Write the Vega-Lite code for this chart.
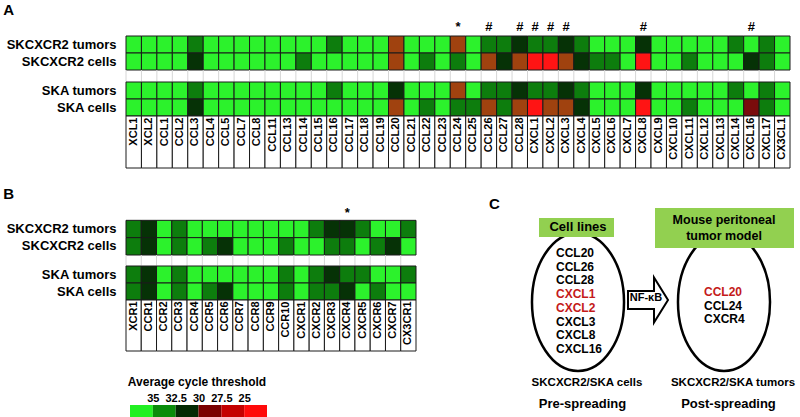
{
  "$schema": "https://vega.github.io/schema/vega-lite/v6.json",
  "background": "white",
  "padding": {"left": 3, "top": 3, "right": 0, "bottom": 0},
  "config": {
    "font": "Liberation Sans",
    "view": {"stroke": null},
    "axis": {"labelColor": "#000", "titleColor": "#000"},
    "title": {"color": "#000"}
  },
  "datasets": {
    "A": [
      {"gene": "XCL1", "sig": "", "SKCXCR2 tumors": 36, "SKCXCR2 cells": 36, "SKA tumors": 36, "SKA cells": 36},
      {"gene": "XCL2", "sig": "", "SKCXCR2 tumors": 36, "SKCXCR2 cells": 36, "SKA tumors": 36, "SKA cells": 36},
      {"gene": "CCL1", "sig": "", "SKCXCR2 tumors": 36, "SKCXCR2 cells": 36, "SKA tumors": 36, "SKA cells": 36},
      {"gene": "CCL2", "sig": "", "SKCXCR2 tumors": 36, "SKCXCR2 cells": 36, "SKA tumors": 36, "SKA cells": 36},
      {"gene": "CCL3", "sig": "", "SKCXCR2 tumors": 33, "SKCXCR2 cells": 30.5, "SKA tumors": 33, "SKA cells": 30.5},
      {"gene": "CCL4", "sig": "", "SKCXCR2 tumors": 36, "SKCXCR2 cells": 36, "SKA tumors": 36, "SKA cells": 36},
      {"gene": "CCL5", "sig": "", "SKCXCR2 tumors": 36, "SKCXCR2 cells": 36, "SKA tumors": 36, "SKA cells": 36},
      {"gene": "CCL7", "sig": "", "SKCXCR2 tumors": 36, "SKCXCR2 cells": 36, "SKA tumors": 36, "SKA cells": 36},
      {"gene": "CCL8", "sig": "", "SKCXCR2 tumors": 36, "SKCXCR2 cells": 36, "SKA tumors": 36, "SKA cells": 36},
      {"gene": "CCL11", "sig": "", "SKCXCR2 tumors": 36, "SKCXCR2 cells": 36, "SKA tumors": 36, "SKA cells": 36},
      {"gene": "CCL13", "sig": "", "SKCXCR2 tumors": 36, "SKCXCR2 cells": 36, "SKA tumors": 36, "SKA cells": 36},
      {"gene": "CCL14", "sig": "", "SKCXCR2 tumors": 36, "SKCXCR2 cells": 33, "SKA tumors": 36, "SKA cells": 36},
      {"gene": "CCL15", "sig": "", "SKCXCR2 tumors": 36, "SKCXCR2 cells": 36, "SKA tumors": 36, "SKA cells": 36},
      {"gene": "CCL16", "sig": "", "SKCXCR2 tumors": 33, "SKCXCR2 cells": 36, "SKA tumors": 33, "SKA cells": 36},
      {"gene": "CCL17", "sig": "", "SKCXCR2 tumors": 36, "SKCXCR2 cells": 36, "SKA tumors": 36, "SKA cells": 36},
      {"gene": "CCL18", "sig": "", "SKCXCR2 tumors": 36, "SKCXCR2 cells": 36, "SKA tumors": 36, "SKA cells": 36},
      {"gene": "CCL19", "sig": "", "SKCXCR2 tumors": 36, "SKCXCR2 cells": 36, "SKA tumors": 36, "SKA cells": 36},
      {"gene": "CCL20", "sig": "", "SKCXCR2 tumors": 28.5, "SKCXCR2 cells": 28.5, "SKA tumors": 30.5, "SKA cells": 28.5},
      {"gene": "CCL21", "sig": "", "SKCXCR2 tumors": 36, "SKCXCR2 cells": 36, "SKA tumors": 36, "SKA cells": 36},
      {"gene": "CCL22", "sig": "", "SKCXCR2 tumors": 36, "SKCXCR2 cells": 33, "SKA tumors": 36, "SKA cells": 33},
      {"gene": "CCL23", "sig": "", "SKCXCR2 tumors": 36, "SKCXCR2 cells": 36, "SKA tumors": 36, "SKA cells": 36},
      {"gene": "CCL24", "sig": "*", "SKCXCR2 tumors": 28.5, "SKCXCR2 cells": 33, "SKA tumors": 28.5, "SKA cells": 33},
      {"gene": "CCL25", "sig": "", "SKCXCR2 tumors": 36, "SKCXCR2 cells": 36, "SKA tumors": 36, "SKA cells": 33},
      {"gene": "CCL26", "sig": "#", "SKCXCR2 tumors": 33, "SKCXCR2 cells": 28.5, "SKA tumors": 33, "SKA cells": 28.5},
      {"gene": "CCL27", "sig": "", "SKCXCR2 tumors": 33, "SKCXCR2 cells": 30.5, "SKA tumors": 33, "SKA cells": 33},
      {"gene": "CCL28", "sig": "#", "SKCXCR2 tumors": 30.5, "SKCXCR2 cells": 28.5, "SKA tumors": 30.5, "SKA cells": 28.5},
      {"gene": "CXCL1", "sig": "#", "SKCXCR2 tumors": 33, "SKCXCR2 cells": 25, "SKA tumors": 33, "SKA cells": 25},
      {"gene": "CXCL2", "sig": "#", "SKCXCR2 tumors": 33, "SKCXCR2 cells": 25, "SKA tumors": 33, "SKA cells": 28.5},
      {"gene": "CXCL3", "sig": "#", "SKCXCR2 tumors": 30.5, "SKCXCR2 cells": 28.5, "SKA tumors": 30.5, "SKA cells": 28.5},
      {"gene": "CXCL4", "sig": "", "SKCXCR2 tumors": 33, "SKCXCR2 cells": 30.5, "SKA tumors": 33, "SKA cells": 30.5},
      {"gene": "CXCL5", "sig": "", "SKCXCR2 tumors": 36, "SKCXCR2 cells": 33, "SKA tumors": 36, "SKA cells": 36},
      {"gene": "CXCL6", "sig": "", "SKCXCR2 tumors": 36, "SKCXCR2 cells": 33, "SKA tumors": 36, "SKA cells": 36},
      {"gene": "CXCL7", "sig": "", "SKCXCR2 tumors": 36, "SKCXCR2 cells": 36, "SKA tumors": 36, "SKA cells": 36},
      {"gene": "CXCL8", "sig": "#", "SKCXCR2 tumors": 30.5, "SKCXCR2 cells": 25, "SKA tumors": 30.5, "SKA cells": 25},
      {"gene": "CXCL9", "sig": "", "SKCXCR2 tumors": 36, "SKCXCR2 cells": 36, "SKA tumors": 36, "SKA cells": 36},
      {"gene": "CXCL10", "sig": "", "SKCXCR2 tumors": 36, "SKCXCR2 cells": 36, "SKA tumors": 36, "SKA cells": 36},
      {"gene": "CXCL11", "sig": "", "SKCXCR2 tumors": 36, "SKCXCR2 cells": 33, "SKA tumors": 36, "SKA cells": 33},
      {"gene": "CXCL12", "sig": "", "SKCXCR2 tumors": 36, "SKCXCR2 cells": 36, "SKA tumors": 36, "SKA cells": 36},
      {"gene": "CXCL13", "sig": "", "SKCXCR2 tumors": 36, "SKCXCR2 cells": 36, "SKA tumors": 36, "SKA cells": 36},
      {"gene": "CXCL14", "sig": "", "SKCXCR2 tumors": 33, "SKCXCR2 cells": 36, "SKA tumors": 33, "SKA cells": 36},
      {"gene": "CXCL16", "sig": "#", "SKCXCR2 tumors": 36, "SKCXCR2 cells": 30.5, "SKA tumors": 36, "SKA cells": 27.5},
      {"gene": "CXCL17", "sig": "", "SKCXCR2 tumors": 33, "SKCXCR2 cells": 33, "SKA tumors": 33, "SKA cells": 33},
      {"gene": "CX3CL1", "sig": "", "SKCXCR2 tumors": 36, "SKCXCR2 cells": 36, "SKA tumors": 36, "SKA cells": 36}
    ],
    "B": [
      {"gene": "XCR1", "sig": "", "SKCXCR2 tumors": 33, "SKCXCR2 cells": 33, "SKA tumors": 33, "SKA cells": 33},
      {"gene": "CCR1", "sig": "", "SKCXCR2 tumors": 30.5, "SKCXCR2 cells": 30.5, "SKA tumors": 30.5, "SKA cells": 30.5},
      {"gene": "CCR2", "sig": "", "SKCXCR2 tumors": 36, "SKCXCR2 cells": 36, "SKA tumors": 36, "SKA cells": 36},
      {"gene": "CCR3", "sig": "", "SKCXCR2 tumors": 33, "SKCXCR2 cells": 33, "SKA tumors": 33, "SKA cells": 33},
      {"gene": "CCR4", "sig": "", "SKCXCR2 tumors": 36, "SKCXCR2 cells": 36, "SKA tumors": 36, "SKA cells": 36},
      {"gene": "CCR5", "sig": "", "SKCXCR2 tumors": 36, "SKCXCR2 cells": 33, "SKA tumors": 36, "SKA cells": 33},
      {"gene": "CCR6", "sig": "", "SKCXCR2 tumors": 36, "SKCXCR2 cells": 30.5, "SKA tumors": 36, "SKA cells": 30.5},
      {"gene": "CCR7", "sig": "", "SKCXCR2 tumors": 36, "SKCXCR2 cells": 36, "SKA tumors": 36, "SKA cells": 36},
      {"gene": "CCR8", "sig": "", "SKCXCR2 tumors": 36, "SKCXCR2 cells": 36, "SKA tumors": 36, "SKA cells": 36},
      {"gene": "CCR9", "sig": "", "SKCXCR2 tumors": 36, "SKCXCR2 cells": 36, "SKA tumors": 36, "SKA cells": 36},
      {"gene": "CCR10", "sig": "", "SKCXCR2 tumors": 36, "SKCXCR2 cells": 33, "SKA tumors": 33, "SKA cells": 33},
      {"gene": "CXCR1", "sig": "", "SKCXCR2 tumors": 36, "SKCXCR2 cells": 36, "SKA tumors": 36, "SKA cells": 36},
      {"gene": "CXCR2", "sig": "", "SKCXCR2 tumors": 33, "SKCXCR2 cells": 36, "SKA tumors": 33, "SKA cells": 33},
      {"gene": "CXCR3", "sig": "", "SKCXCR2 tumors": 30.5, "SKCXCR2 cells": 33, "SKA tumors": 30.5, "SKA cells": 33},
      {"gene": "CXCR4", "sig": "*", "SKCXCR2 tumors": 30.5, "SKCXCR2 cells": 33, "SKA tumors": 33, "SKA cells": 30.5},
      {"gene": "CXCR5", "sig": "", "SKCXCR2 tumors": 33, "SKCXCR2 cells": 36, "SKA tumors": 33, "SKA cells": 36},
      {"gene": "CXCR6", "sig": "", "SKCXCR2 tumors": 36, "SKCXCR2 cells": 33, "SKA tumors": 36, "SKA cells": 33},
      {"gene": "CXCR7", "sig": "", "SKCXCR2 tumors": 36, "SKCXCR2 cells": 30.5, "SKA tumors": 36, "SKA cells": 36},
      {"gene": "CX3CR1", "sig": "", "SKCXCR2 tumors": 33, "SKCXCR2 cells": 36, "SKA tumors": 33, "SKA cells": 36}
    ],
    "legend": [
      {"from": 37.5, "to": 35, "ct_bin": 36.25},
      {"from": 35, "to": 32.5, "ct_bin": 33.75},
      {"from": 32.5, "to": 30, "ct_bin": 31.25},
      {"from": 30, "to": 27.5, "ct_bin": 28.75},
      {"from": 27.5, "to": 25, "ct_bin": 26.25},
      {"from": 25, "to": 22.5, "ct_bin": 23.75}
    ],
    "stages": [
      {"stage": "Pre-spreading", "model": "Cell lines", "samples": "SKCXCR2/SKA cells"},
      {"stage": "Post-spreading", "model": "Mouse peritoneal\ntumor model", "samples": "SKCXCR2/SKA tumors"}
    ],
    "transition": [
      {"stage": "NF-κB"}
    ],
    "chemokines": [
      {"stage": "Pre-spreading", "order": 1, "gene": "CCL20", "highlight": false},
      {"stage": "Pre-spreading", "order": 2, "gene": "CCL26", "highlight": false},
      {"stage": "Pre-spreading", "order": 3, "gene": "CCL28", "highlight": false},
      {"stage": "Pre-spreading", "order": 4, "gene": "CXCL1", "highlight": true},
      {"stage": "Pre-spreading", "order": 5, "gene": "CXCL2", "highlight": true},
      {"stage": "Pre-spreading", "order": 6, "gene": "CXCL3", "highlight": false},
      {"stage": "Pre-spreading", "order": 7, "gene": "CXCL8", "highlight": false},
      {"stage": "Pre-spreading", "order": 8, "gene": "CXCL16", "highlight": false},
      {"stage": "Post-spreading", "order": 1, "gene": "CCL20", "highlight": true},
      {"stage": "Post-spreading", "order": 2, "gene": "CCL24", "highlight": false},
      {"stage": "Post-spreading", "order": 3, "gene": "CXCR4", "highlight": false}
    ]
  },
  "resolve": {"scale": {"color": "independent"}},
  "spacing": 18,
  "vconcat": [
    {
      "spacing": 0,
      "bounds": "flush",
      "vconcat": [
        {
          "title": {"text": "A", "anchor": "start", "frame": "bounds", "fontSize": 15, "fontWeight": "bold", "dx": -3, "offset": 1},
          "width": 664,
          "height": 51,
          "data": {"name": "A"},
          "transform": [{"fold": ["SKCXCR2 tumors", "SKCXCR2 cells"], "as": ["sample", "ct"]}],
          "encoding": {
            "x": {"field": "gene", "type": "nominal", "sort": null, "axis": null, "scale": {"paddingInner": 0, "paddingOuter": 0}}
          },
          "layer": [
            {
              "mark": {"type": "rect", "stroke": "#1a1a1a", "strokeWidth": 1},
              "encoding": {
                "y": {"field": "sample", "type": "nominal", "scale": {"domain": ["significance", "SKCXCR2 tumors", "SKCXCR2 cells"], "paddingInner": 0, "paddingOuter": 0},
                  "axis": {"title": null, "ticks": false, "domain": false, "labelFontSize": 13, "labelFontWeight": "bold", "labelPadding": 10, "labelExpr": "datum.value === 'significance' ? '' : datum.value"}},
                "color": {"field": "ct", "type": "quantitative", "legend": null,
                  "scale": {"type": "linear", "domain": [25, 27.5, 28.5, 30.5, 33, 36], "range": ["#ff1414", "#7a0c0c", "#a0420f", "#063206", "#0d7d0d", "#2cf22c"], "interpolate": "rgb"}}
              }
            },
            {
              "mark": {"type": "text", "fontSize": 13, "fontWeight": "bold", "baseline": "middle", "dy": -0.5},
              "encoding": {
                "y": {"datum": "significance", "type": "nominal"},
                "text": {"condition": {"test": "datum.sample === 'SKCXCR2 tumors'", "field": "sig"}, "value": ""}
              }
            }
          ]
        },
        {
          "width": 664,
          "height": 12,
          "data": {"name": "A"},
          "mark": {"type": "rule", "stroke": "#d6d6d6", "strokeWidth": 1},
          "encoding": {
            "x": {"field": "gene", "type": "nominal", "sort": null, "bandPosition": 0, "axis": null, "scale": {"paddingInner": 0, "paddingOuter": 0}}
          }
        },
        {
          "width": 664,
          "height": 34,
          "data": {"name": "A"},
          "transform": [{"fold": ["SKA tumors", "SKA cells"], "as": ["sample", "ct"]}],
          "mark": {"type": "rect", "stroke": "#1a1a1a", "strokeWidth": 1},
          "encoding": {
            "x": {"field": "gene", "type": "nominal", "sort": null, "axis": null, "scale": {"paddingInner": 0, "paddingOuter": 0}},
            "y": {"field": "sample", "type": "nominal", "scale": {"domain": ["SKA tumors", "SKA cells"], "paddingInner": 0, "paddingOuter": 0},
              "axis": {"title": null, "ticks": false, "domain": false, "labelFontSize": 13, "labelFontWeight": "bold", "labelPadding": 10}},
            "color": {"field": "ct", "type": "quantitative", "legend": null,
              "scale": {"type": "linear", "domain": [25, 27.5, 28.5, 30.5, 33, 36], "range": ["#ff1414", "#7a0c0c", "#a0420f", "#063206", "#0d7d0d", "#2cf22c"], "interpolate": "rgb"}}
          }
        },
        {
          "width": 664,
          "height": 52,
          "data": {"name": "A"},
          "mark": {"type": "rect", "fill": "#ffffff", "stroke": "#1a1a1a", "strokeWidth": 1},
          "encoding": {
            "x": {"field": "gene", "type": "nominal", "sort": null, "scale": {"paddingInner": 0, "paddingOuter": 0},
              "axis": {"orient": "bottom", "offset": -52, "title": null, "ticks": false, "tickSize": 0, "domain": false, "labelAngle": -90, "labelAlign": "right", "labelBaseline": "middle", "labelFontSize": 11, "labelFontWeight": "bold", "labelPadding": 1, "labelOverlap": false, "zindex": 1}}
          }
        }
      ]
    },
    {
      "spacing": 64,
      "resolve": {"scale": {"color": "independent"}},
      "hconcat": [
        {
          "spacing": 23,
          "resolve": {"scale": {"color": "independent"}},
          "vconcat": [
            {
              "spacing": 0,
              "bounds": "flush",
              "vconcat": [
                {
                  "title": {"text": "B", "anchor": "start", "frame": "bounds", "fontSize": 15, "fontWeight": "bold", "dx": -3, "offset": 1},
                  "width": 290,
                  "height": 52,
                  "data": {"name": "B"},
                  "transform": [{"fold": ["SKCXCR2 tumors", "SKCXCR2 cells"], "as": ["sample", "ct"]}],
                  "encoding": {
                    "x": {"field": "gene", "type": "nominal", "sort": null, "axis": null, "scale": {"paddingInner": 0, "paddingOuter": 0}}
                  },
                  "layer": [
                    {
                      "mark": {"type": "rect", "stroke": "#1a1a1a", "strokeWidth": 1},
                      "encoding": {
                        "y": {"field": "sample", "type": "nominal", "scale": {"domain": ["significance", "SKCXCR2 tumors", "SKCXCR2 cells"], "paddingInner": 0, "paddingOuter": 0},
                          "axis": {"title": null, "ticks": false, "domain": false, "labelFontSize": 13, "labelFontWeight": "bold", "labelPadding": 10, "labelExpr": "datum.value === 'significance' ? '' : datum.value"}},
                        "color": {"field": "ct", "type": "quantitative", "legend": null,
                          "scale": {"type": "linear", "domain": [25, 27.5, 28.5, 30.5, 33, 36], "range": ["#ff1414", "#7a0c0c", "#a0420f", "#063206", "#0d7d0d", "#2cf22c"], "interpolate": "rgb"}}
                      }
                    },
                    {
                      "mark": {"type": "text", "fontSize": 13, "fontWeight": "bold", "baseline": "middle", "dy": 1},
                      "encoding": {
                        "y": {"datum": "significance", "type": "nominal"},
                        "text": {"condition": {"test": "datum.sample === 'SKCXCR2 tumors'", "field": "sig"}, "value": ""}
                      }
                    }
                  ]
                },
                {
                  "width": 290,
                  "height": 11,
                  "data": {"name": "B"},
                  "mark": {"type": "rule", "stroke": "#d6d6d6", "strokeWidth": 1},
                  "encoding": {
                    "x": {"field": "gene", "type": "nominal", "sort": null, "bandPosition": 0, "axis": null, "scale": {"paddingInner": 0, "paddingOuter": 0}}
                  }
                },
                {
                  "width": 290,
                  "height": 34,
                  "data": {"name": "B"},
                  "transform": [{"fold": ["SKA tumors", "SKA cells"], "as": ["sample", "ct"]}],
                  "mark": {"type": "rect", "stroke": "#1a1a1a", "strokeWidth": 1},
                  "encoding": {
                    "x": {"field": "gene", "type": "nominal", "sort": null, "axis": null, "scale": {"paddingInner": 0, "paddingOuter": 0}},
                    "y": {"field": "sample", "type": "nominal", "scale": {"domain": ["SKA tumors", "SKA cells"], "paddingInner": 0, "paddingOuter": 0},
                      "axis": {"title": null, "ticks": false, "domain": false, "labelFontSize": 13, "labelFontWeight": "bold", "labelPadding": 10}},
                    "color": {"field": "ct", "type": "quantitative", "legend": null,
                      "scale": {"type": "linear", "domain": [25, 27.5, 28.5, 30.5, 33, 36], "range": ["#ff1414", "#7a0c0c", "#a0420f", "#063206", "#0d7d0d", "#2cf22c"], "interpolate": "rgb"}}
                  }
                },
                {
                  "width": 290,
                  "height": 51,
                  "data": {"name": "B"},
                  "mark": {"type": "rect", "fill": "#ffffff", "stroke": "#1a1a1a", "strokeWidth": 1},
                  "encoding": {
                    "x": {"field": "gene", "type": "nominal", "sort": null, "scale": {"paddingInner": 0, "paddingOuter": 0},
                      "axis": {"orient": "bottom", "offset": -51, "title": null, "ticks": false, "tickSize": 0, "domain": false, "labelAngle": -90, "labelAlign": "right", "labelBaseline": "middle", "labelFontSize": 11, "labelFontWeight": "bold", "labelPadding": 1, "labelOverlap": false, "zindex": 1}}
                  }
                }
              ]
            },
            {
              "width": 141,
              "height": 13,
              "data": {"name": "legend"},
              "mark": {"type": "rect"},
              "encoding": {
                "x": {"field": "from", "type": "quantitative", "scale": {"domain": [22.5, 37.94], "reverse": true, "nice": false, "zero": false},
                  "axis": {"orient": "top", "values": [35, 32.5, 30, 27.5, 25], "labelExpr": "toString(datum.value)", "ticks": false, "tickSize": 0, "domain": false, "grid": false, "labelFontSize": 11, "labelFontWeight": "bold", "labelPadding": 2, "labelFlush": false, "labelOverlap": false, "title": "Average cycle threshold", "titleFontSize": 12, "titleFontWeight": "bold", "titlePadding": 4}},
                "x2": {"field": "to"},
                "color": {"field": "ct_bin", "type": "ordinal", "legend": null,
                  "scale": {"domain": [36.25, 33.75, 31.25, 28.75, 26.25, 23.75], "range": ["#22f022", "#0a8c0a", "#032a03", "#7a0000", "#c40000", "#ff0a0a"]}}
              }
            }
          ]
        },
        {
          "width": 320,
          "height": 213,
          "resolve": {"scale": {"y": "independent"}},
          "layer": [
            {
              "data": {"name": "stages"},
              "mark": {"type": "point", "shape": "M0,-1C0.368,-1,0.667,-0.552,0.667,0C0.667,0.552,0.368,1,0,1C-0.368,1,-0.667,0.552,-0.667,0C-0.667,-0.552,-0.368,-1,0,-1Z", "size": 19044, "filled": false, "color": "#000", "strokeWidth": 2.5, "opacity": 1},
              "encoding": {
                "x": {"field": "stage", "type": "nominal", "axis": null, "scale": {"type": "point", "domain": ["Pre-spreading", "NF-κB", "Post-spreading"], "range": [97, 243], "padding": 0}},
                "y": {"datum": 99, "type": "quantitative", "axis": null, "scale": {"domain": [0, 213], "reverse": true, "nice": false, "zero": false}}
              }
            },
            {
              "data": {"name": "stages"},
              "transform": [{"filter": "datum.stage === 'Pre-spreading'"}],
              "mark": {"type": "point", "shape": "M-1,-0.253L1,-0.253L1,0.253L-1,0.253Z", "size": 5625, "filled": true, "color": "#92d050", "opacity": 1, "strokeWidth": 0, "xOffset": -1.5},
              "encoding": {
                "x": {"field": "stage", "type": "nominal", "axis": null, "scale": {"type": "point", "domain": ["Pre-spreading", "NF-κB", "Post-spreading"], "range": [97, 243], "padding": 0}},
                "y": {"datum": 24.5, "type": "quantitative", "axis": null, "scale": {"domain": [0, 213], "reverse": true, "nice": false, "zero": false}}
              }
            },
            {
              "data": {"name": "stages"},
              "transform": [{"filter": "datum.stage === 'Post-spreading'"}],
              "mark": {"type": "point", "shape": "M-1,-0.288L1,-0.288L1,0.288L-1,0.288Z", "size": 19321, "filled": true, "color": "#92d050", "opacity": 1, "strokeWidth": 0, "xOffset": 0.5},
              "encoding": {
                "x": {"field": "stage", "type": "nominal", "axis": null, "scale": {"type": "point", "domain": ["Pre-spreading", "NF-κB", "Post-spreading"], "range": [97, 243], "padding": 0}},
                "y": {"datum": 25, "type": "quantitative", "axis": null, "scale": {"domain": [0, 213], "reverse": true, "nice": false, "zero": false}}
              }
            },
            {
              "data": {"name": "stages"},
              "transform": [{"filter": "datum.stage === 'Pre-spreading'"}],
              "mark": {"type": "text", "fontSize": 13, "fontWeight": "bold", "baseline": "middle", "align": "center", "color": "#000"},
              "encoding": {
                "x": {"field": "stage", "type": "nominal", "axis": null, "scale": {"type": "point", "domain": ["Pre-spreading", "NF-κB", "Post-spreading"], "range": [97, 243], "padding": 0}},
                "y": {"datum": 24, "type": "quantitative", "axis": null, "scale": {"domain": [0, 213], "reverse": true, "nice": false, "zero": false}},
                "text": {"field": "model"}
              }
            },
            {
              "data": {"name": "stages"},
              "transform": [{"filter": "datum.stage === 'Post-spreading'"}],
              "mark": {"type": "text", "fontSize": 12.5, "fontWeight": "bold", "lineBreak": "\n", "lineHeight": 16, "baseline": "middle", "align": "center", "color": "#000"},
              "encoding": {
                "x": {"field": "stage", "type": "nominal", "axis": null, "scale": {"type": "point", "domain": ["Pre-spreading", "NF-κB", "Post-spreading"], "range": [97, 243], "padding": 0}},
                "y": {"datum": 17, "type": "quantitative", "axis": null, "scale": {"domain": [0, 213], "reverse": true, "nice": false, "zero": false}},
                "text": {"field": "model"}
              }
            },
            {
              "data": {"name": "transition"},
              "mark": {"type": "point", "shape": "M-0.889,-0.4L0.267,-0.4L0.267,-1L0.889,0L0.267,1L0.267,0.4L-0.889,0.4Z", "size": 2025, "filled": true, "fill": "#ffffff", "stroke": "#000", "strokeWidth": 2, "opacity": 1, "xOffset": -3},
              "encoding": {
                "x": {"field": "stage", "type": "nominal", "axis": null, "scale": {"type": "point", "domain": ["Pre-spreading", "NF-κB", "Post-spreading"], "range": [97, 243], "padding": 0}},
                "y": {"datum": 97, "type": "quantitative", "axis": null, "scale": {"domain": [0, 213], "reverse": true, "nice": false, "zero": false}}
              }
            },
            {
              "data": {"name": "transition"},
              "mark": {"type": "text", "fontSize": 11, "fontWeight": "bold", "baseline": "middle", "align": "center", "dx": -5, "color": "#000"},
              "encoding": {
                "x": {"field": "stage", "type": "nominal", "axis": null, "scale": {"type": "point", "domain": ["Pre-spreading", "NF-κB", "Post-spreading"], "range": [97, 243], "padding": 0}},
                "y": {"datum": 95, "type": "quantitative", "axis": null, "scale": {"domain": [0, 213], "reverse": true, "nice": false, "zero": false}},
                "text": {"field": "stage"}
              }
            },
            {
              "data": {"name": "transition"},
              "mark": {"type": "text", "text": "C", "fontSize": 15, "fontWeight": "bold", "align": "left", "baseline": "alphabetic", "dx": -162, "color": "#000"},
              "encoding": {
                "x": {"field": "stage", "type": "nominal", "axis": null, "scale": {"type": "point", "domain": ["Pre-spreading", "NF-κB", "Post-spreading"], "range": [97, 243], "padding": 0}},
                "y": {"datum": 6, "type": "quantitative", "axis": null, "scale": {"domain": [0, 213], "reverse": true, "nice": false, "zero": false}}
              }
            },
            {
              "data": {"name": "stages"},
              "mark": {"type": "text", "fontSize": 11.5, "fontWeight": "bold", "baseline": "middle", "align": "center", "dx": 9, "color": "#000"},
              "encoding": {
                "x": {"field": "stage", "type": "nominal", "axis": null, "scale": {"type": "point", "domain": ["Pre-spreading", "NF-κB", "Post-spreading"], "range": [97, 243], "padding": 0}},
                "y": {"datum": 180, "type": "quantitative", "axis": null, "scale": {"domain": [0, 213], "reverse": true, "nice": false, "zero": false}},
                "text": {"field": "samples"}
              }
            },
            {
              "data": {"name": "stages"},
              "mark": {"type": "text", "fontSize": 13, "fontWeight": "bold", "baseline": "middle", "align": "center", "dx": 4.5, "color": "#000"},
              "encoding": {
                "x": {"field": "stage", "type": "nominal", "axis": null, "scale": {"type": "point", "domain": ["Pre-spreading", "NF-κB", "Post-spreading"], "range": [97, 243], "padding": 0}},
                "y": {"datum": 201, "type": "quantitative", "axis": null, "scale": {"domain": [0, 213], "reverse": true, "nice": false, "zero": false}},
                "text": {"field": "stage"}
              }
            },
            {
              "data": {"name": "chemokines"},
              "transform": [{"filter": "datum.stage === 'Pre-spreading'"}],
              "mark": {"type": "text", "fontSize": 12, "fontWeight": "bold", "baseline": "middle", "align": "left", "dx": -22},
              "encoding": {
                "x": {"field": "stage", "type": "nominal", "axis": null, "scale": {"type": "point", "domain": ["Pre-spreading", "NF-κB", "Post-spreading"], "range": [97, 243], "padding": 0}},
                "y": {"field": "order", "type": "quantitative", "axis": null, "scale": {"domain": [-2.646, 12.886], "reverse": true, "nice": false, "zero": false}},
                "text": {"field": "gene"},
                "color": {"condition": {"test": "datum.highlight", "value": "#c41a1a"}, "value": "#000"}
              }
            },
            {
              "data": {"name": "chemokines"},
              "transform": [{"filter": "datum.stage === 'Post-spreading'"}],
              "mark": {"type": "text", "fontSize": 12, "fontWeight": "bold", "baseline": "middle", "align": "left", "dx": -20},
              "encoding": {
                "x": {"field": "stage", "type": "nominal", "axis": null, "scale": {"type": "point", "domain": ["Pre-spreading", "NF-κB", "Post-spreading"], "range": [97, 243], "padding": 0}},
                "y": {"field": "order", "type": "quantitative", "axis": null, "scale": {"domain": [-5.593, 10.185], "reverse": true, "nice": false, "zero": false}},
                "text": {"field": "gene"},
                "color": {"condition": {"test": "datum.highlight", "value": "#c41a1a"}, "value": "#000"}
              }
            }
          ]
        }
      ]
    }
  ]
}
